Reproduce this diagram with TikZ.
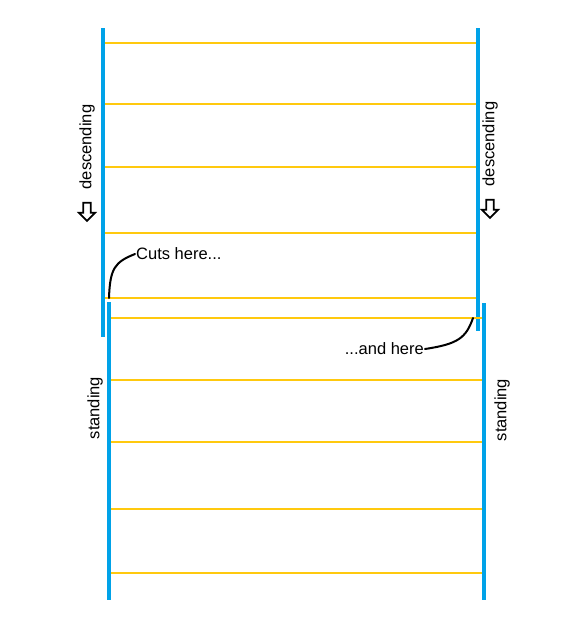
\documentclass[tikz,border=0pt]{standalone}
\usepackage{fontspec}
\setmainfont{Liberation Sans}
\usetikzlibrary{shapes.arrows}
\definecolor{railc}{HTML}{00A2E8}
\definecolor{rungc}{HTML}{FFC90E}

\begin{document}
\begin{tikzpicture}[x=1pt,y=-1pt,
    rail/.style={railc, line width=4pt},
    rung/.style={rungc, line width=2pt},
    sidelabel/.style={rotate=90, font=\fontsize{16.5}{18}\selectfont, inner sep=0pt},
    notelabel/.style={font=\fontsize{16.5}{18}\selectfont, inner sep=1pt},
    hollowarrow/.style={draw, line width=1.8pt, shape=single arrow, rotate=-90,
      minimum height=18pt, minimum width=16pt, single arrow head extend=4pt,
      inner sep=2.5pt},
    pointer/.style={line width=2pt, line cap=round}]
  \useasboundingbox (0,0) rectangle (564,638);
  \fill[white] (0,0) rectangle (564,638);

  % ==========================================================
  %                     UPPER LADDER (descending)
  % ==========================================================
  \coordinate (ulTop) at (103,28);
  \coordinate (ulBot) at (103,337);
  \coordinate (urTop) at (478,28);
  \coordinate (urBot) at (478,331);
  \foreach \yy in {43,104,167,233,298}
    \draw[rung] (103,\yy) -- (478,\yy);
  \draw[rail] (ulTop) -- (ulBot);
  \draw[rail] (urTop) -- (urBot);

  % ==========================================================
  %                     LOWER LADDER (standing)
  % ==========================================================
  \coordinate (llTop) at (109,302);
  \coordinate (llBot) at (109,600);
  \coordinate (lrTop) at (484,303);
  \coordinate (lrBot) at (484,600);
  \foreach \yy in {318,380,442,509,573}
    \draw[rung] (109,\yy) -- (484,\yy);
  \draw[rail] (llTop) -- (llBot);
  \draw[rail] (lrTop) -- (lrBot);

  % ==========================================================
  %                     LABELS
  % ==========================================================
  \node[sidelabel] (descL) at (87,147) {descending};
  \node[sidelabel] (descR) at (490,144) {descending};
  \node[hollowarrow] (arrL) at (87,210) {};
  \node[hollowarrow] (arrR) at (490,207) {};
  \node[sidelabel] (standL) at (95,408) {standing};
  \node[sidelabel] (standR) at (502,410) {standing};

  % cut markers
  \node[notelabel, anchor=west] (cutsNote) at (135,254) {Cuts here...};
  \node[notelabel, anchor=east] (andNote) at (425,349) {...and here};
  \coordinate (cutL) at (109,298);
  \coordinate (cutR) at (473,318);
  \draw[pointer] (cutsNote.west) .. controls (115,262) and (110,268) .. (cutL);
  \draw[pointer] (andNote.east) .. controls (458,344) and (466,338) .. (cutR);

\end{tikzpicture}
\end{document}
